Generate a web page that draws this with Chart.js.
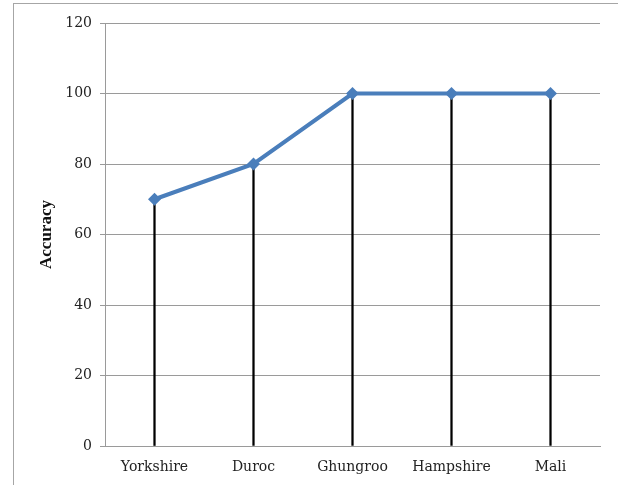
<!DOCTYPE html>
<html>
<head>
<meta charset="utf-8">
<script src="https://cdn.jsdelivr.net/npm/chart.js@4.4.0/dist/chart.umd.min.js"></script>
<style>
  html, body { margin: 0; padding: 0; background: #fff; }
  #wrap { position: relative; width: 618px; height: 485px; overflow: hidden; }
  #frame { position: absolute; left: 13px; top: 3px; width: 620px; height: 490px;
           border-left: 1px solid #a6a6a6; border-top: 1px solid #a6a6a6; pointer-events: none; }
  canvas { position: absolute; left: 0; top: 0; }
</style>
</head>
<body>
<div id="wrap">
  <canvas id="c" width="618" height="485"></canvas>
  <div id="frame"></div>
</div>
<script>
// Pig breeds and the accuracy measured for each
const breeds = ['Yorkshire', 'Duroc', 'Ghungroo', 'Hampshire', 'Mali'];
const accuracy = [70, 80, 100, 100, 100];
const yTicks = [0, 20, 40, 60, 80, 100, 120];

const serif = '"DejaVu Serif", serif';

new Chart(document.getElementById('c'), {
  data: {
    labels: breeds,
    datasets: [
      {
        type: 'line',
        data: accuracy,
        borderColor: '#4a7ebb',
        backgroundColor: '#4a7ebb',
        borderWidth: 4,
        pointStyle: 'rectRot',
        pointRadius: 6.5,
        pointBorderWidth: 0,
        tension: 0,
        fill: false
      },
      {
        // vertical drop lines from each point down to the axis
        type: 'bar',
        data: accuracy,
        backgroundColor: '#000',
        barThickness: 1.6
      }
    ]
  },
  options: {
    responsive: false,
    animation: false,
    layout: { padding: { left: 0, right: 18, top: 23, bottom: 0 } },
    plugins: { legend: { display: false }, tooltip: { enabled: false } },
    scales: {
      x: {
        offset: true,
        grid: { display: false, drawTicks: false },
        border: { color: '#9a9a9a', width: 1 },
        ticks: { color: '#222', font: { family: serif, size: 14 }, padding: 13, maxRotation: 0 },
        afterFit: s => { s.height = 39; }
      },
      y: {
        min: 0,
        max: 120,
        afterBuildTicks: s => { s.ticks = yTicks.map(v => ({ value: v })); },
        grid: { color: '#9a9a9a', lineWidth: 1, tickLength: 5 },
        border: { color: '#9a9a9a', width: 1 },
        ticks: { color: '#222', font: { family: serif, size: 14 }, padding: 8 },
        title: {
          display: true,
          text: 'Accuracy',
          color: '#111',
          font: { family: '"Liberation Serif", serif', size: 17, weight: 'bold' },
          padding: { top: 36, bottom: 0 }
        },
        afterFit: s => { s.width = 105; }
      }
    }
  }
});
</script>
</body>
</html>
